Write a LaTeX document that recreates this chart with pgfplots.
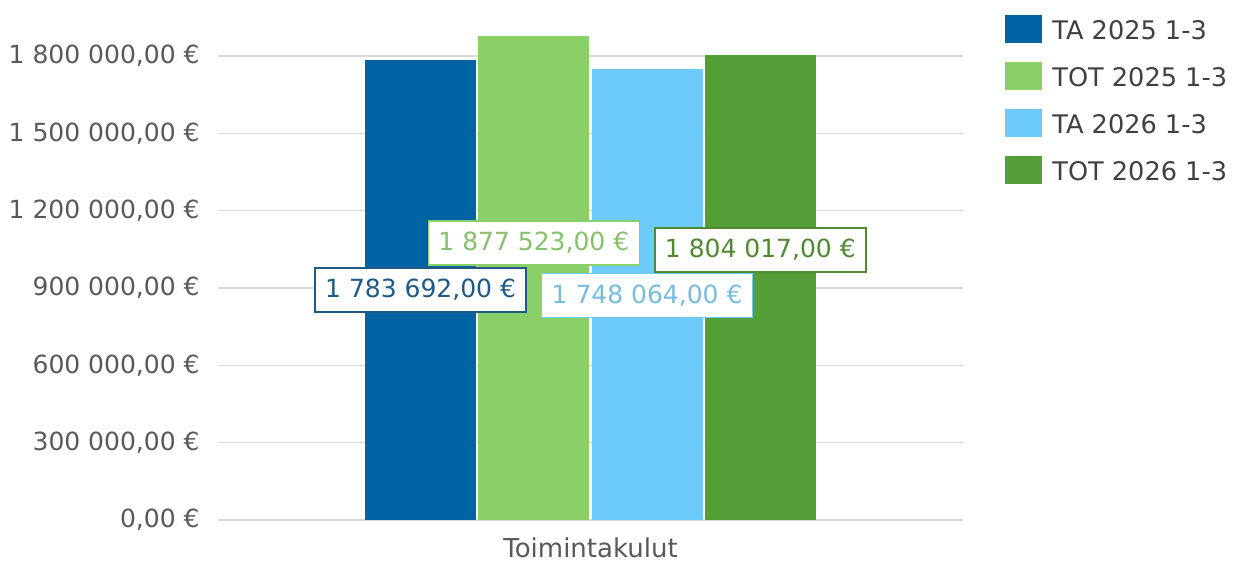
\documentclass[border=0pt]{standalone}
\usepackage{pgfplots}
\pgfplotsset{compat=1.18}
\usepackage{fontspec}
\setmainfont{DejaVu Sans}
\definecolor{cA}{HTML}{0063A3}
\definecolor{cB}{HTML}{89D068}
\definecolor{cC}{HTML}{6CCBFA}
\definecolor{cD}{HTML}{539E36}
\definecolor{tA}{HTML}{1F5A85}
\definecolor{tB}{HTML}{86C06C}
\definecolor{tC}{HTML}{76BCDE}
\definecolor{tD}{HTML}{4E8A32}
\definecolor{gridgray}{HTML}{D9D9D9}
\definecolor{ticktext}{HTML}{595959}
\definecolor{legtext}{HTML}{404040}
\tikzset{lbl/.style={fill=white, line width=0.8pt, font=\fontsize{12.5}{14}\selectfont, inner xsep=5pt, inner ysep=0pt, minimum height=22pt}}
\begin{document}
\begin{tikzpicture}
\begin{axis}[
  scale only axis, width=372.5pt, height=251.35pt,
  xmin=-1, xmax=1, ymin=0, ymax=1950000,
  scaled y ticks=false,
  axis line style={draw=none}, tick style={draw=none},
  ymajorgrids, grid style={color=gridgray, line width=0.7pt},
  ytick={0,300000,600000,900000,1200000,1500000,1800000},
  yticklabels={{0,00 €},{300 000,00 €},{600 000,00 €},{900 000,00 €},{1 200 000,00 €},{1 500 000,00 €},{1 800 000,00 €}},
  xtick={0}, xticklabels={Toimintakulut},
  yticklabel style={font=\fontsize{12.5}{14}\selectfont, text=ticktext, anchor=east, inner sep=0pt, xshift=-9pt},
  xticklabel style={font=\fontsize{13}{15}\selectfont, text=ticktext, anchor=north, inner sep=0pt, yshift=-8.5pt},
  legend style={at={(1.0564,1.0046)}, anchor=north west, draw=none, fill=none, inner sep=0pt,
    font=\fontsize{12.8}{15}\selectfont, text=legtext, row sep=9.5pt, column sep=5pt,
    nodes={inner sep=0pt}},
  legend cell align=left,
]
\addplot[ybar, bar width=0.298, bar shift=-0.456, fill=cA, draw=none,
  legend image code/.code={\fill[cA] (0pt,-6pt) rectangle (18.5pt,8pt);}] coordinates {(0,1783692)};
\addlegendentry{TA 2025 1-3}
\addplot[ybar, bar width=0.298, bar shift=-0.152, fill=cB, draw=none,
  legend image code/.code={\fill[cB] (0pt,-6pt) rectangle (18.5pt,8pt);}] coordinates {(0,1877523)};
\addlegendentry{TOT 2025 1-3}
\addplot[ybar, bar width=0.298, bar shift=0.152, fill=cC, draw=none,
  legend image code/.code={\fill[cC] (0pt,-6pt) rectangle (18.5pt,8pt);}] coordinates {(0,1748064)};
\addlegendentry{TA 2026 1-3}
\addplot[ybar, bar width=0.298, bar shift=0.456, fill=cD, draw=none,
  legend image code/.code={\fill[cD] (0pt,-6pt) rectangle (18.5pt,8pt);}] coordinates {(0,1804017)};
\addlegendentry{TOT 2026 1-3}
\node[lbl, draw=tA, text=tA] at (axis cs:-0.456,892241) {1 783 692,00 €};
\node[lbl, draw=cB, text=tB] at (axis cs:-0.152,1074569) {1 877 523,00 €};
\node[lbl, draw=cC, text=tC] at (axis cs:0.152,870905) {1 748 064,00 €};
\node[lbl, draw=tD, text=tD] at (axis cs:0.456,1047414) {1 804 017,00 €};
\end{axis}
\pgfresetboundingbox
\path (-109pt,-21.5pt) rectangle (511pt,260pt);
\end{tikzpicture}
\end{document}
